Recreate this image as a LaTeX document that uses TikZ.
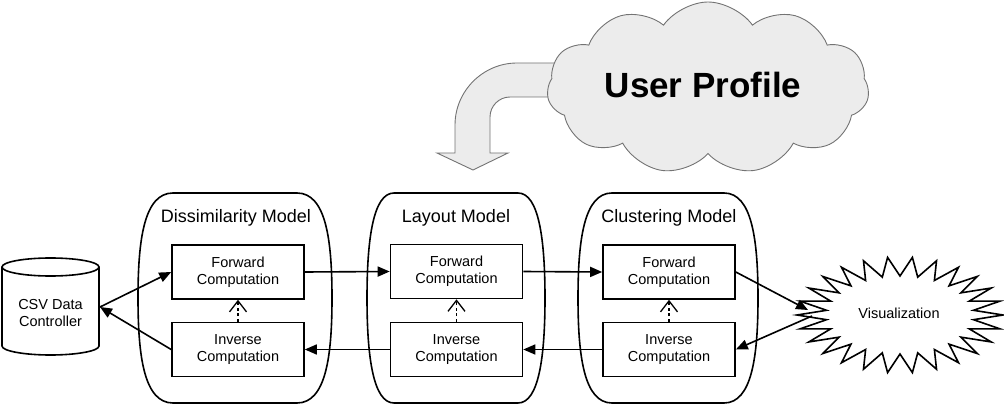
\documentclass[tikz,border=0pt]{standalone}
\usepackage{fontspec}
\setmainfont{Liberation Sans}
\usetikzlibrary{arrows.meta,shapes.symbols,shapes.geometric}
\tikzset{
  compbox/.style={draw, line width=1.6pt, minimum width=132pt, minimum height=54pt, inner sep=0pt, align=center, font=\fontsize{14.5}{17}\selectfont, fill=white},
  title/.style={font=\fontsize{18}{21}\selectfont},
  flow/.style={line width=1.6pt, -{Triangle[length=12pt,width=10pt]}},
  dep/.style={line width=1.2pt, dash pattern=on 3pt off 2.5pt, -{Straight Barb[length=11pt,width=17pt,line width=1.3pt]}},
  container/.style={line width=1.6pt},
}
\newcommand\modelshape[3]{% cx, half width, half flat
  \draw[container] ({#1-#3},193) -- ({#1+#3},193)
    .. controls ({#1+#2-6},193) and ({#1+#2},240) .. ({#1+#2},298)
    .. controls ({#1+#2},356) and ({#1+#2-6},403) .. ({#1+#3},403)
    -- ({#1-#3},403)
    .. controls ({#1-#2+6},403) and ({#1-#2},356) .. ({#1-#2},298)
    .. controls ({#1-#2},240) and ({#1-#2+6},193) .. cycle;}
\begin{document}
\begin{tikzpicture}[x=1pt,y=-1pt]
\useasboundingbox (0,0) rectangle (1004,406);

% block arrow from the cloud
\draw[line width=0.9pt, draw=gray!90!black, fill=gray!15]
  (560,63) -- (517,63) .. controls (483,63) and (455,91) .. (455,125)
  -- (455,153) -- (437,153) -- (473,170) -- (508,153) -- (490,153)
  -- (490,117) .. controls (490,106) and (499,97) .. (510,97) -- (560,97) -- cycle;

% cloud
\node[cloud, cloud puffs=11, cloud puff arc=110, aspect=1.9, minimum width=322pt, minimum height=172pt,
      draw=gray!90!black, line width=0.9pt, fill=gray!15, inner sep=0pt] (cloud) at (708,88) {};
\node[font=\fontsize{35}{40}\selectfont\bfseries] (up) at (703,85) {User Profile};

% CSV cylinder
\draw[line width=1.6pt, fill=white] (2,267) -- (2,346)
  .. controls (2,351) and (24.3,355) .. (50.5,355)
  .. controls (76.7,355) and (99,351) .. (99,346) -- (99,267);
\draw[line width=1.6pt, fill=white] (50.5,267) ellipse [x radius=48.5, y radius=9];
\node[align=center, font=\fontsize{14.5}{17}\selectfont] (csv) at (50.5,313) {CSV Data\\Controller};
\coordinate (csvr) at (100,307);

% model containers
\modelshape{235}{97}{62}
\modelshape{456}{89}{62}
\modelshape{668}{90}{56}
\node[title] (tdm) at (236,218) {Dissimilarity Model};
\node[title] (tlm) at (456,218) {Layout Model};
\node[title] (tcm) at (669,218) {Clustering Model};

% computation boxes
\node[compbox] (df) at (238,272) {Forward\\Computation};
\node[compbox] (di) at (238,349.5) {Inverse\\Computation};
\node[compbox] (lf) at (456.5,271.5) {Forward\\Computation};
\node[compbox] (li) at (456.5,349.5) {Inverse\\Computation};
\node[compbox] (cf) at (669,272) {Forward\\Computation};
\node[compbox] (ci) at (669,349.5) {Inverse\\Computation};

% dependencies
\draw[dep] (di.north) -- (df.south);
\draw[dep] (li.north) -- (lf.south);
\draw[dep] (ci.north) -- (cf.south);

% visualization starburst
\draw[line width=1.6pt, fill=white] (1003,315)
  \foreach \i [evaluate=\i as \rx using {mod(\i,2)==0 ? 103 : 74},
               evaluate=\i as \ry using {mod(\i,2)==0 ? 58 : 39},
               evaluate=\i as \ang using {\i*6.9230769}] in {1,...,51}
  { -- ({900+\rx*cos(\ang)},{315+\ry*sin(\ang)}) } -- cycle;
\node[font=\fontsize{14.5}{17}\selectfont] (viz) at (899,313) {Visualization};
\coordinate (vizin) at (808,310);
\coordinate (vizout) at (812,316);

% flows
\draw[flow] (csvr) -- (df.west);
\draw[flow] (di.west) -- (csvr);
\draw[flow] (df.east) -- (lf.west);
\draw[flow] (lf.east) -- (cf.west);
\draw[flow] (cf.east) -- (vizin);
\draw[flow] (vizout) -- (ci.east);
\draw[flow] (ci.west) -- (li.east);
\draw[flow] (li.west) -- (di.east);
\end{tikzpicture}
\end{document}
